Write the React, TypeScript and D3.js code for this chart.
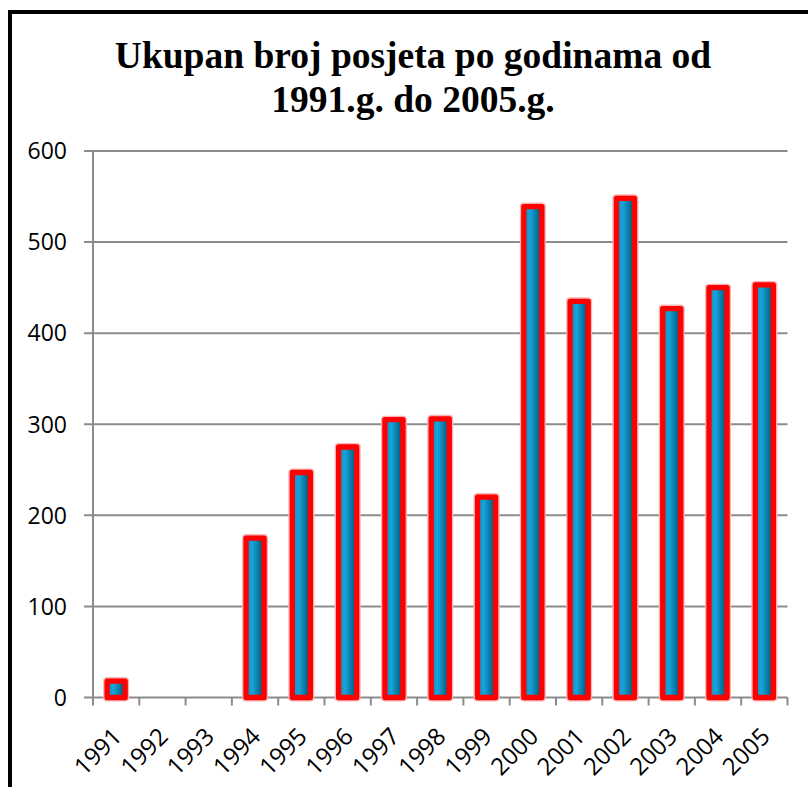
import React from 'react';
import * as d3 from 'd3';

const years = ['1991', '1992', '1993', '1994', '1995', '1996', '1997', '1998', '1999', '2000', '2001', '2002', '2003', '2004', '2005'];
const visits = [18, 0, 0, 175, 247, 275, 305, 306, 220, 539, 435, 548, 427, 450, 453];
const yTicks = [0, 100, 200, 300, 400, 500, 600];
const titleLines = ['Ukupan broj posjeta po godinama od', '1991.g. do 2005.g.'];

const W = 808;
const H = 787;

export default function App() {
  const x = d3.scaleBand().domain(years).range([93, 787.5]).padding(0);
  const y = d3.scaleLinear().domain([0, 600]).range([697.5, 151]);
  const bw = x.bandwidth() * 0.39;
  const grid = '#8c8c8c';

  // boundaries between categories for the tick marks
  const boundaries = years.map(d => x(d)!).concat([x.range()[1]]);

  return (
    <svg width={W} height={H} style={{ position: 'absolute', left: 0, top: 0, background: '#fff' }}>
      <defs>
        <linearGradient id="barFill" x1="0" x2="1" y1="0" y2="0">
          <stop offset="0%" stopColor="#0b8cc2" />
          <stop offset="35%" stopColor="#17a4da" />
          <stop offset="100%" stopColor="#00506f" />
        </linearGradient>
      </defs>

      <rect x={10} y={12} width={W + 20} height={H + 20} fill="none" stroke="#000" strokeWidth={4} />

      {titleLines.map((t, i) => (
        <text key={i} x={413} y={68 + i * 44} textAnchor="middle"
          fontFamily="'Liberation Serif', 'Times New Roman', serif" fontWeight="bold" fontSize={37.5}>
          {t}
        </text>
      ))}

      {yTicks.map(t => (
        <g key={t}>
          <line x1={84} x2={x.range()[1]} y1={y(t)} y2={y(t)} stroke={grid} strokeWidth={2} />
          <text x={67} y={y(t)} dy="0.36em" textAnchor="end" fontFamily="'Open Sans', sans-serif" fontSize={23}>
            {t}
          </text>
        </g>
      ))}

      <line x1={93} x2={93} y1={y(600)} y2={y(0)} stroke={grid} strokeWidth={2} />
      {boundaries.map((b, i) => (
        <line key={i} x1={b} x2={b} y1={y(0)} y2={y(0) + 8} stroke={grid} strokeWidth={2} />
      ))}

      {years.map((d, i) => {
        const v = visits[i];
        if (!v) return null;
        const cx = x(d)! + x.bandwidth() / 2;
        return (
          <g key={d}>
            <rect x={cx - bw / 2} y={y(v)} width={bw} height={y(0) - y(v)}
              fill="none" stroke="#f7b5b5" strokeWidth={8} strokeLinejoin="round" />
            <rect x={cx - bw / 2} y={y(v)} width={bw} height={y(0) - y(v)}
              fill="url(#barFill)" stroke="#ff0000" strokeWidth={5.3} strokeLinejoin="round" />
          </g>
        );
      })}

      {years.map(d => {
        const cx = x(d)! + x.bandwidth() / 2;
        return (
          <text key={d} transform={`translate(${cx + 7},${738}) rotate(-45)`} textAnchor="end"
            fontFamily="'Open Sans', sans-serif" fontSize={24}>
            {d}
          </text>
        );
      })}
    </svg>
  );
}
